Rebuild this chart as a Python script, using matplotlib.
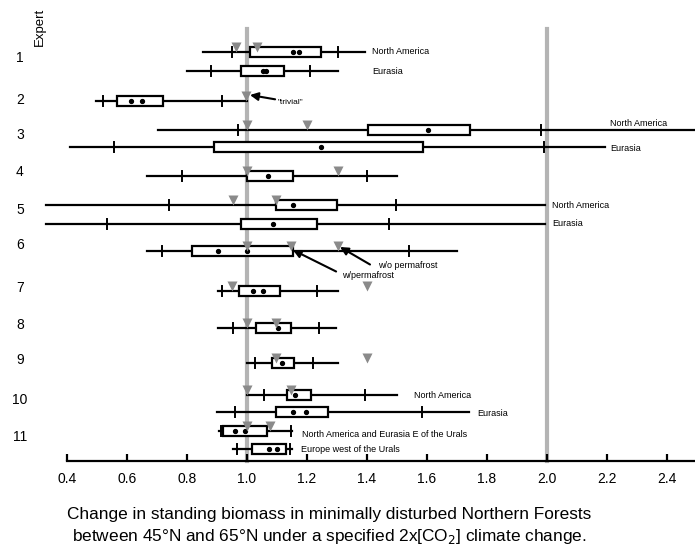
import matplotlib.pyplot as plt

plt.rcParams['font.family'] = ['Liberation Sans', 'DejaVu Sans']

# one entry per drawn row
experts = ["1", "1", "2", "3", "3", "4", "5", "5", "6", "7", "8", "9", "10", "10", "11", "11"]
regions = ["North America", "Eurasia", "", "North America", "Eurasia", "",
           "North America", "Eurasia", "", "", "", "", "North America", "Eurasia",
           "North America and Eurasia E of the Urals", "Europe west of the Urals"]
range_lo = [0.854, 0.80, 0.496, 0.702, 0.41, 0.666, 0.329, 0.329, 0.666, 0.904,
            0.904, 1.00, 1.00, 0.899, 0.908, 0.952]
range_hi = [1.393, 1.302, 1.00, 2.60, 2.193, 1.499, 1.993, 1.993, 1.699, 1.302,
            1.297, 1.302, 1.499, 1.741, 1.149, 1.149]
pct_lo = [0.951, 0.879, 0.519, 0.971, 0.558, 0.782, 0.74, 0.532, 0.716, 0.918,
          0.952, 1.027, 1.058, 0.96, 0.912, 0.966]
pct_hi = [1.302, 1.21, 0.918, 1.979, 1.991, 1.399, 1.497, 1.473, 1.54, 1.234,
          1.241, 1.221, 1.393, 1.582, 1.147, 1.143]
box_lo = [1.01, 0.979, 0.566, 1.402, 0.889, 0.999, 1.097, 0.98, 0.816, 0.974,
          1.029, 1.084, 1.132, 1.097, 0.919, 1.018]
box_hi = [1.246, 1.123, 0.719, 1.743, 1.586, 1.152, 1.299, 1.232, 1.152, 1.11,
          1.147, 1.158, 1.213, 1.269, 1.066, 1.129]
best = [[1.153, 1.173], [1.052, 1.062], [0.612, 0.651], [1.602], [1.247], [1.069],
        [1.154], [1.086], [0.904, 1.001], [1.021, 1.052], [1.104], [1.118],
        [1.16], [1.154, 1.197], [0.96, 0.993], [1.073, 1.101]]
# gray triangles (other estimates), per row
other = [[0.963, 1.032], [], [0.996], [1.0, 1.199], [], [1.0, 1.302],
         [0.954, 1.097], [], [1.0, 1.146, 1.304], [0.949, 1.399], [0.999, 1.097],
         [1.097, 1.399], [1.0, 1.147], [], [1.0, 1.077], []]

# layout (pixel rows, label positions)
row_y = [52, 71, 100.5, 130, 146.5, 176, 205, 224, 251, 291, 328, 363,
         394.5, 412, 430.5, 448.5]
label_x = [1.417, 1.417, None, 2.21, 2.212, None, 2.017, 2.017, None, None,
           None, None, 1.557, 1.766, 1.183, 1.18]
label_dy = [0, 0, 0, -7, 2, 0, 0, 0, 0, 0, 0, 0, 1, 1, 4, 1]
expert_y = [58, 99.5, 135, 172, 210, 245, 288, 325, 360, 400, 437]
expert_names = ["1", "2", "3", "4", "5", "6", "7", "8", "9", "10", "11"]
xticks = [0.4, 0.6, 0.8, 1.0, 1.2, 1.4, 1.6, 1.8, 2.0, 2.2, 2.4]
ref_lines = [1.0, 2.0]

fig = plt.figure(figsize=(6.95, 5.51), dpi=100)
ax = fig.add_axes([0, 0, 1, 1])
ax.set_xlim(0.177, 2.493)
ax.set_ylim(551, 0)

for xr in ref_lines:
    ax.plot([xr, xr], [29, 461], color='#b4b4b4', lw=3, zorder=1)

half = 5
for i, y in enumerate(row_y):
    ax.plot([range_lo[i], range_hi[i]], [y, y], color='black', lw=1.6, zorder=3)
    for p in (pct_lo[i], pct_hi[i]):
        ax.plot([p, p], [y - half, y + half], color='black', lw=1.4, zorder=3)
    ax.add_patch(plt.Rectangle((box_lo[i], y - half), box_hi[i] - box_lo[i], 2 * half,
                               facecolor='white', edgecolor='black', lw=1.6, zorder=4))
    ax.plot(best[i], [y] * len(best[i]), 'o', color='black', ms=2.8, zorder=5)
    if other[i]:
        ax.plot(other[i], [y - 5] * len(other[i]), 'v', color='#8a8a8a', ms=7,
                mec='none', zorder=6)
    if label_x[i] is not None:
        ax.text(label_x[i], y + label_dy[i], regions[i], fontsize=6.5,
                va='center', ha='left')

# expert numbers down the left side
for name, y in zip(expert_names, expert_y):
    ax.annotate(name, xy=(20, 551 - y), xycoords='figure pixels', fontsize=10,
                ha='center', va='center')
ax.annotate("Expert", xy=(40, 551 - 27), xycoords='figure pixels', fontsize=9.5,
            rotation=90, ha='center', va='center')

arrow = dict(arrowstyle='-|>', color='black', lw=1.5, mutation_scale=12,
             shrinkA=0, shrinkB=0)
ax.annotate('"trivial"', xy=(1.01, 95), xytext=(1.103, 102), fontsize=6,
            va='center', arrowprops=arrow)
ax.annotate('', xy=(1.153, 250), xytext=(1.297, 271.5), arrowprops=arrow)
ax.annotate('', xy=(1.31, 247), xytext=(1.41, 264.5), arrowprops=arrow)
ax.text(1.437, 266, 'w/o permafrost', fontsize=6.5, va='center')
ax.text(1.316, 276, 'w/permafrost', fontsize=6.5, va='center')

# x axis
for s in ('top', 'right', 'left'):
    ax.spines[s].set_visible(False)
ax.spines['bottom'].set_position(('data', 461))
ax.spines['bottom'].set_bounds(0.4, 2.493)
ax.spines['bottom'].set_linewidth(1.6)
ax.set_xticks(xticks)
ax.set_xticklabels([f"{t:.1f}" for t in xticks])
ax.tick_params(axis='x', direction='in', length=5, width=1.6, labelsize=10, pad=8)
ax.set_yticks([])

fig.text(0.474, 1 - 514 / 551, "Change in standing biomass in minimally disturbed Northern Forests",
         ha='center', va='center', fontsize=12.4)
fig.text(0.474, 1 - 536 / 551, "between 45°N and 65°N under a specified 2x[CO$_2$] climate change.",
         ha='center', va='center', fontsize=12.4)

fig.savefig('out.png', dpi=100)
